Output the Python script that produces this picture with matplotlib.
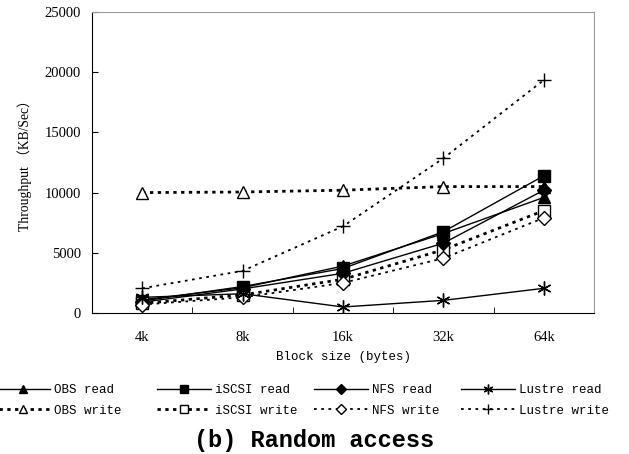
import matplotlib
matplotlib.use("Agg")
import matplotlib.pyplot as plt

# dados (KB/Sec)
blocos = ["4k", "8k", "16k", "32k", "64k"]
obs_read = [1100, 2100, 3900, 6600, 9600]
iscsi_read = [1000, 2200, 3700, 6750, 11400]
nfs_read = [900, 2000, 3300, 5800, 10200]
lustre_read = [1300, 1600, 500, 1050, 2050]
obs_write = [10000, 10050, 10200, 10500, 10500]
iscsi_write = [800, 1500, 2800, 5250, 8500]
nfs_write = [700, 1300, 2500, 4550, 7900]
lustre_write = [2050, 3500, 7200, 12850, 19350]

fonte_mono = "Liberation Mono"
fonte_serif = "Liberation Serif"

W, H = 629, 454
fig = plt.figure(figsize=(W / 100, H / 100), dpi=100)
ax = fig.add_axes([92 / W, 1 - 313 / H, 502 / W, 301 / H])
x = list(range(len(blocos)))

pontilhado = (0, (1.2, 1.6))
fino = (0, (1.5, 2.5))
series = [
    (obs_read, "OBS read", dict(ls="-", lw=1.0, marker="^", mfc="black")),
    (obs_write, "OBS write", dict(ls=pontilhado, lw=2.0, marker="^", mfc="white")),
    (iscsi_read, "iSCSI read", dict(ls="-", lw=1.0, marker="s", mfc="black")),
    (iscsi_write, "iSCSI write", dict(ls=pontilhado, lw=2.0, marker="s", mfc="white")),
    (nfs_read, "NFS read", dict(ls="-", lw=1.0, marker="D", mfc="black", markersize=7)),
    (nfs_write, "NFS write", dict(ls=fino, lw=1.3, marker="D", mfc="white", markersize=7)),
    (lustre_read, "Lustre read", dict(ls="-", lw=1.0, marker=(6, 2, 0), markersize=10)),
    (lustre_write, "Lustre write", dict(ls=fino, lw=1.3, marker="+", markersize=10)),
]

linhas = []
for vals, nome, estilo in series:
    opts = dict(color="black", markersize=8)
    opts.update(estilo)
    (ln,) = ax.plot(x, vals, label=nome, mec="black", mew=1.0, **opts)
    linhas.append(ln)

ax.set_xlim(-0.5, 4.5)
ax.set_ylim(0, 25000)
ax.set_yticks(range(0, 25001, 5000))
ax.set_xticks(x)
ax.set_xticklabels(blocos, fontfamily=fonte_serif, fontsize=10.5)
ax.set_xticks([0.5, 1.5, 2.5, 3.5], minor=True)
ax.tick_params(axis="x", which="major", length=0, pad=13)
ax.tick_params(axis="x", which="minor", direction="in", length=4)
ax.tick_params(axis="y", direction="in", length=4, labelsize=10.5, pad=8)
for t in ax.get_yticklabels():
    t.set_fontfamily(fonte_serif)

ax.spines["top"].set_color("#999999")
ax.spines["right"].set_color("#999999")

ax.set_xlabel("Block size (bytes)", fontfamily=fonte_mono, fontsize=9, labelpad=5)
ax.set_ylabel("Throughput （KB/Sec）", fontfamily=[fonte_serif, "Noto Sans CJK SC", "DejaVu Sans"],
              fontsize=9.8, labelpad=9)

# legenda em 4 colunas com posições irregulares, como no original
inicio_colunas = [0, 161, 318, 465]
for i, x0 in enumerate(inicio_colunas):
    fig.legend(handles=linhas[2 * i:2 * i + 2], loc="upper left",
               bbox_to_anchor=(x0 / W - 0.006, 1 - 384 / H), frameon=False,
               prop={"family": fonte_mono, "size": 9}, handlelength=4.3,
               handletextpad=0.3, labelspacing=0.7, borderaxespad=0,
               borderpad=0, markerscale=0.7)

fig.text(0.5, 1 - 440 / H, "(b) Random access", ha="center", va="center",
         fontfamily=fonte_mono, fontsize=17, fontweight="bold")

fig.savefig("out.png", dpi=100)
